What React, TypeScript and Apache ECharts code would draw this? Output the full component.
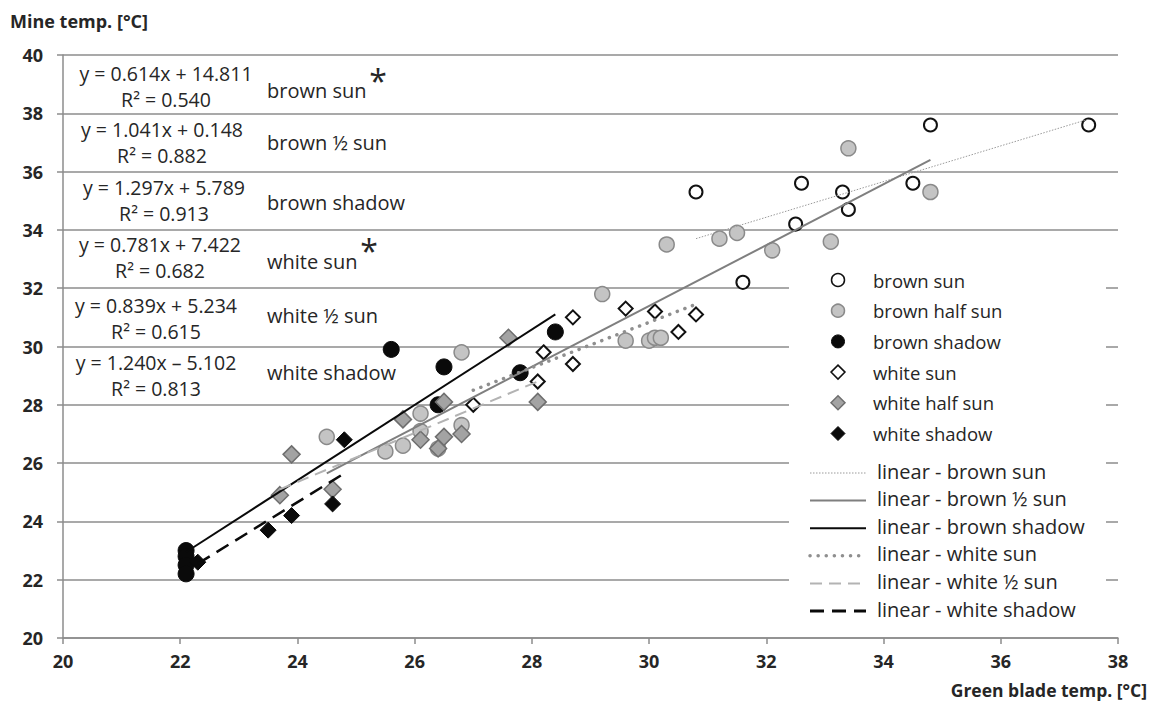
import React, { useEffect, useRef } from "react";
import * as echarts from "echarts";

// ---------- data ----------
const brownSun = [
  [37.5, 37.6], [34.8, 37.6], [34.5, 35.6], [32.6, 35.6], [30.8, 35.3],
  [33.3, 35.3], [33.4, 34.7], [32.5, 34.2], [31.6, 32.2],
];
const brownHalfSun = [
  [33.4, 36.8], [34.8, 35.3], [30.3, 33.5], [31.2, 33.7], [31.5, 33.9],
  [32.1, 33.3], [33.1, 33.6], [29.2, 31.8], [29.6, 30.2], [30.0, 30.2],
  [30.1, 30.3], [30.2, 30.3], [26.8, 29.8], [24.5, 26.9], [26.1, 27.7],
  [26.1, 27.1], [25.8, 26.6], [25.5, 26.4], [26.8, 27.3], [26.4, 26.5],
];
const brownShadow = [
  [22.1, 23.0], [22.1, 22.8], [22.1, 22.5], [22.1, 22.2], [25.6, 29.9],
  [26.5, 29.3], [26.4, 28.0], [27.8, 29.1], [28.4, 30.5],
];
const whiteSun = [
  [27.0, 28.0], [28.1, 28.8], [28.2, 29.8], [28.7, 29.4], [28.7, 31.0],
  [29.6, 31.3], [30.1, 31.2], [30.5, 30.5], [30.8, 31.1],
];
const whiteHalfSun = [
  [23.7, 24.9], [23.9, 26.3], [24.6, 25.1], [25.8, 27.5], [26.1, 26.8],
  [26.4, 26.5], [26.5, 26.9], [26.5, 28.1], [26.8, 27.0], [27.6, 30.3],
  [28.1, 28.1],
];
const whiteShadow = [
  [22.3, 22.6], [23.5, 23.7], [23.9, 24.2], [24.6, 24.6], [24.8, 26.8],
];

// trend lines (end points)
const fitBrownSun = [[30.8, 33.7], [37.5, 37.8]];
const fitBrownHalfSun = [[24.5, 25.65], [34.8, 36.4]];
const fitBrownShadow = [[22.1, 22.95], [28.4, 31.1]];
const fitWhiteSun = [[27.0, 28.5], [30.8, 31.45]];
const fitWhiteHalfSun = [[23.7, 25.1], [28.1, 28.8]];
const fitWhiteShadow = [[22.3, 22.55], [24.8, 25.65]];

const scatterNames = ["brown sun", "brown half sun", "brown shadow", "white sun", "white half sun", "white shadow"];
const lineNames = [
  "linear - brown sun", "linear - brown ½ sun", "linear - brown shadow",
  "linear - white sun", "linear - white ½ sun", "linear - white shadow",
];

const equations = [
  "y = 0.614x + 14.811", "y = 1.041x + 0.148", "y = 1.297x + 5.789",
  "y = 0.781x + 7.422", "y = 0.839x + 5.234", "y = 1.240x \u2013 5.102",
];
const rSquared = ["R² = 0.540", "R² = 0.882", "R² = 0.913", "R² = 0.682", "R² = 0.615", "R² = 0.813"];
const groupLabels = ["brown sun", "brown ½ sun", "brown shadow", "white sun", "white ½ sun", "white shadow"];
const starred = [true, false, false, true, false, false];

const xAxisTitle = "Green blade temp. [°C]";
const yAxisTitle = "Mine temp. [°C]";

// ---------- layout & styles ----------
const FONT = "'Open Sans', 'Noto Sans', sans-serif";
const TXT = "#262626";
const GRID = "#8c8c8c";
const eqX = [166, 162, 164, 160, 156, 156];
const eqY = [73, 129, 187, 244, 305, 362];
const rY = [99, 155, 213, 270, 331, 388];
const labY = [90, 142, 202, 261, 315, 372];
const starPos = [[378, 80], null, null, [369, 250], null, null];

// marker styles per scatter series
const markerStyles = [
  { symbol: "circle", size: 13, fill: "#ffffff", stroke: "#111111", bw: 2 },
  { symbol: "circle", size: 15, fill: "#c4c4c4", stroke: "#8a8a8a", bw: 1.5 },
  { symbol: "circle", size: 16, fill: "#0a0a0a", stroke: "#0a0a0a", bw: 1 },
  { symbol: "diamond", size: 14, fill: "#ffffff", stroke: "#111111", bw: 2 },
  { symbol: "diamond", size: 17, fill: "#a3a3a3", stroke: "#6e6e6e", bw: 1.5 },
  { symbol: "diamond", size: 16, fill: "#0a0a0a", stroke: "#0a0a0a", bw: 1 },
];
// trend line styles
const lineStyles = [
  { color: "#9a9a9a", width: 1, dash: [1.5, 1.5], cap: "butt" },
  { color: "#7f7f7f", width: 2, dash: null, cap: "butt" },
  { color: "#0a0a0a", width: 2, dash: null, cap: "butt" },
  { color: "#8f8f8f", width: 3.5, dash: [0.1, 8], cap: "round" },
  { color: "#b3b3b3", width: 2, dash: [12, 7], cap: "butt" },
  { color: "#0a0a0a", width: 2.5, dash: [14, 8], cap: "butt" },
];
const legendSym = { x: 838, y0: 280, dy: 30.7, textX: 873 };
const legendLine = { x1: 810, x2: 866, y0: 471, dy: 27.6, textX: 877 };

export default function App() {
  const ref = useRef<HTMLDivElement>(null);
  useEffect(() => {
    const chart = echarts.init(ref.current!, undefined, { renderer: "svg" });

    const graphics: any[] = [
      {
        type: "rect", z: 1,
        shape: { x: 789, y: 262, width: 317, height: 356 },
        style: { fill: "#ffffff" },
      },
      {
        type: "text", x: 10, y: 21, z: 5,
        style: { text: yAxisTitle, fontFamily: FONT, fontWeight: "bold", fontSize: 18, fill: TXT, align: "left", verticalAlign: "middle" },
      },
      {
        type: "text", x: 1147, y: 690, z: 5,
        style: { text: xAxisTitle, fontFamily: FONT, fontWeight: "bold", fontSize: 17.5, fill: TXT, align: "right", verticalAlign: "middle" },
      },
    ];
    equations.forEach((eq, i) => {
      graphics.push({
        type: "text", x: eqX[i], y: eqY[i], z: 5,
        style: { text: eq, fontFamily: FONT, fontSize: 19.5, lineHeight: 20, fill: TXT, align: "center", verticalAlign: "middle" },
      });
      graphics.push({
        type: "text", x: eqX[i], y: rY[i], z: 5,
        style: { text: rSquared[i], fontFamily: FONT, fontSize: 19.5, lineHeight: 20, fill: TXT, align: "center", verticalAlign: "middle" },
      });
      graphics.push({
        type: "text", x: 267, y: labY[i], z: 5,
        style: { text: groupLabels[i], fontFamily: FONT, fontSize: 20, lineHeight: 20, fill: TXT, align: "left", verticalAlign: "middle" },
      });
      const sp = starPos[i];
      if (starred[i] && sp) {
        graphics.push({
          type: "text", x: sp[0], y: sp[1], z: 5,
          style: { text: "*", fontFamily: FONT, fontSize: 32, lineHeight: 20, fill: TXT, align: "center", verticalAlign: "middle" },
        });
      }
    });

    // legend (scatter markers)
    scatterNames.forEach((name, i) => {
      const m = markerStyles[i];
      const cy = legendSym.y0 + i * legendSym.dy;
      const cx = legendSym.x;
      if (m.symbol === "circle") {
        graphics.push({
          type: "circle", z: 6, shape: { cx, cy, r: 6.5 },
          style: { fill: m.fill, stroke: m.stroke, lineWidth: Math.min(m.bw, 1.5) },
        });
      } else {
        const h = 7;
        graphics.push({
          type: "polygon", z: 6,
          shape: { points: [[cx, cy - h], [cx + h, cy], [cx, cy + h], [cx - h, cy]] },
          style: { fill: m.fill, stroke: m.stroke, lineWidth: Math.min(m.bw, 1.5) },
        });
      }
      graphics.push({
        type: "text", x: legendSym.textX, y: cy, z: 6,
        style: { text: name, fontFamily: FONT, fontSize: 18.5, lineHeight: 20, fill: TXT, align: "left", verticalAlign: "middle" },
      });
    });
    // legend (trend lines)
    lineNames.forEach((name, i) => {
      const s = lineStyles[i];
      const cy = legendLine.y0 + i * legendLine.dy;
      graphics.push({
        type: "line", z: 6,
        shape: { x1: legendLine.x1, y1: cy + 2, x2: legendLine.x2, y2: cy + 2 },
        style: {
          stroke: s.color, lineWidth: i === 5 ? 3 : s.width,
          lineDash: s.dash || undefined, lineCap: s.cap,
        },
      });
      graphics.push({
        type: "text", x: legendLine.textX, y: cy, z: 6,
        style: { text: name, fontFamily: FONT, fontSize: 20, lineHeight: 20, fill: TXT, align: "left", verticalAlign: "middle" },
      });
    });

    const scatterSeries = scatterNames.map((name, i) => {
      const m = markerStyles[i];
      const data = [brownSun, brownHalfSun, brownShadow, whiteSun, whiteHalfSun, whiteShadow][i];
      return {
        name, type: "scatter", data, symbol: m.symbol, symbolSize: m.size, z: 2,
        itemStyle: { color: m.fill, borderColor: m.stroke, borderWidth: m.bw, opacity: 1 },
        emphasis: { disabled: true },
      };
    });
    const fits = [fitBrownSun, fitBrownHalfSun, fitBrownShadow, fitWhiteSun, fitWhiteHalfSun, fitWhiteShadow];
    const lineSeries = lineNames.map((name, i) => {
      const s = lineStyles[i];
      return {
        name, type: "line", data: fits[i], symbol: "none", showSymbol: false, z: 3,
        itemStyle: { color: s.color },
        lineStyle: { color: s.color, width: s.width, type: s.dash || "solid", cap: s.cap },
        emphasis: { disabled: true },
      };
    });

    chart.setOption({
      animation: false,
      backgroundColor: "#ffffff",
      grid: { left: 63, right: 33, top: 55, bottom: 70, containLabel: false },
      xAxis: {
        type: "value", min: 20, max: 38, interval: 2,
        axisLine: { show: true, lineStyle: { color: GRID, width: 1.5 } },
        axisTick: { show: true, length: 6, inside: false, lineStyle: { color: GRID, width: 1.5 } },
        axisLabel: { fontFamily: FONT, fontWeight: "bold", fontSize: 18, color: TXT, margin: 14 },
        splitLine: { show: false },
      },
      yAxis: {
        type: "value", min: 20, max: 40, interval: 2,
        axisLine: { show: true, lineStyle: { color: GRID, width: 1.5 } },
        axisTick: { show: true, length: 6, inside: false, lineStyle: { color: GRID, width: 1.5 } },
        axisLabel: { fontFamily: FONT, fontWeight: "bold", fontSize: 18, color: TXT, margin: 20 },
        splitLine: { show: true, lineStyle: { color: GRID, width: 1.5 } },
      },
      graphic: { elements: graphics },
      series: [...scatterSeries, ...lineSeries],
    });
    return () => chart.dispose();
  }, []);
  return <div ref={ref} style={{ position: "fixed", left: 0, top: 0, width: 1151, height: 708 }} />;
}
